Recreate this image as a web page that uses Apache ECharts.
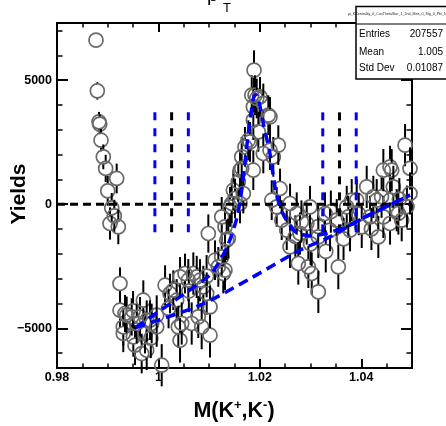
<!DOCTYPE html>
<html>
<head>
<meta charset="utf-8">
<script src="https://cdn.jsdelivr.net/npm/echarts@6/dist/echarts.min.js"></script>
<style>
html,body{margin:0;padding:0;background:#fff;}
#chart{width:446px;height:426px;}
</style>
</head>
<body>
<div id="chart"></div>
<script>
// ---- data ----
const massValues = [0.98769,0.98795,0.98828,0.98842,0.98868,0.98913,0.98960,0.99000,0.99045,0.99079,0.99130,0.99177,0.99209,
0.99242,0.99242,0.99307,0.99307,0.99341,0.99374,0.99473,0.99500,0.99505,0.99538,0.99572,0.99637,0.99670,0.99702,0.99735,0.99769,0.99769,
0.99834,0.99850,0.99867,0.99966,0.99966,1.00065,1.00131,1.00200,1.00228,1.00293,1.00360,1.00392,1.00426,1.00426,1.00459,1.00524,1.00589,1.00600,1.00656,
1.00688,1.00755,1.00786,1.00820,1.00853,1.00885,1.00950,1.00952,1.00984,1.01017,1.01017,1.01116,1.01181,1.01248,1.01248,1.01279,1.01313,
1.01313,1.01346,1.01378,1.01412,1.01445,1.01477,1.01510,1.01575,1.01609,1.01609,1.01642,1.01642,1.01674,1.01707,1.01772,1.01806,
1.01840,1.01871,1.01871,1.01871,1.01885,1.01905,1.01938,1.01970,1.02003,1.02068,1.02068,1.02167,1.02200,1.02200,1.02234,1.02265,
1.02332,1.02364,1.02398,1.02431,1.02530,1.02595,1.02595,1.02700,1.02727,1.02758,1.02792,1.02820,1.02924,1.02956,1.02989,1.03000,1.03023,1.03150,1.03153,1.03153,
1.03285,1.03300,1.03384,1.03400,1.03516,1.03547,1.03650,1.03713,1.03744,1.03778,1.03811,1.03910,1.03950,1.04009,1.04107,1.04172,1.04200,1.04237,1.04304,1.04336,1.04400,1.04435,
1.04435,1.04567,1.04567,1.04567,1.04600,1.04632,1.04699,1.04731,1.04750,1.04797,1.04863,1.04900,1.04961,1.04961];
const yieldValues = [6609,4566,3317,3224,2579,1906,1439,536,-778,-149,-472,1036,-915,
-3196,-4272,-4945,-5211,-4405,-4473,-4542,-4300,-5348,-5682,-4808,-4542,-6017,-3869,-5211,-5884,-4675,
-4675,-5400,-4808,-4473,-4945,-6488,-3264,-4200,-3599,-3466,-3869,-4945,-5481,-2930,-4808,-2793,-3063,-3500,-4808,
-2793,-2930,-4542,-3063,-4945,-3333,-2900,-3599,-1181,-5279,-4139,-2257,-2527,-2124,-512,-2793,-2660,
-915,-1451,-1382,-109,28,564,230,899,1370,28,1439,1906,431,2309,2579,2511,
4393,3921,3385,1370,5400,4393,4260,2914,4324,4058,2043,3587,3518,2176,161,1906,
-109,2378,633,-645,-1048,28,-1721,-1300,-375,-2390,-1181,-700,-778,-2527,-109,-1600,-2793,-900,-3534,-1318,
-375,-1900,-1048,-300,-645,-2527,-1400,-109,-512,-1048,161,161,-400,-915,697,-512,-1000,294,161,-1318,300,1370,
-512,1503,161,-778,1370,697,-242,-375,200,-645,2378,-100,1439,431];
const yieldErrors = [250,350,400,400,450,500,550,600,650,600,650,600,700,
650,700,750,750,750,750,750,800,800,800,800,800,800,800,800,800,800,
800,800,800,800,800,850,800,800,800,800,850,850,900,800,850,800,850,850,850,
850,850,850,850,900,850,850,850,770,900,850,800,800,800,800,800,800,
800,800,800,800,800,800,800,800,800,800,800,800,800,800,800,800,
800,800,800,800,800,800,800,800,800,800,800,800,800,800,800,800,
800,800,800,800,800,800,850,850,850,850,850,850,850,850,850,850,850,850,850,850,
850,850,850,850,850,900,850,850,850,850,850,850,850,850,850,850,850,850,850,850,850,850,
850,850,850,850,850,850,850,850,850,850,850,850,850,850];

const fitMass  = [0.9955,1.0050,1.0103,1.0135,1.0155,1.0165,1.0171,1.0178,1.0187,1.0192,1.0198,1.0207,1.0220,1.0230,1.0240,1.0253,1.0272,1.0299,1.0331,1.0377,1.0403,1.0496];
const fitYield = [-4967,-3621,-2814,-1742,-532,677,1754,2964,4250,4420,4150,3234,2024,677,-129,-665,-1137,-1270,-1180,-850,-564,363];
const bgMass  = [0.9955,1.0082,1.0181,1.0279,1.0338,1.0403,1.0496];
const bgYield = [-4967,-4070,-2994,-1854,-1318,-564,363];

const sidebandLines = [0.9993,1.0026,1.0059,1.0324,1.0357,1.0390];
const sidebandColors = ['#0000ff','#000000','#0000ff','#0000ff','#000000','#0000ff'];
const sidebandRange = [3700,-1150];

const xMajorTicks = [0.98,1.00,1.02,1.04];
const xMinorTicks = [0.985,0.99,0.995,1.005,1.01,1.015,1.025,1.03,1.035,1.045];
const xTickLabels = ['0.98','1','1.02','1.04'];
const yMajorTicks = [-5000,0,5000];
const yMinorTicks = [-6000,-4000,-3000,-2000,-1000,1000,2000,3000,4000,6000,7000];
const yTickLabels = ['\u22125000','0','5000'];

const statsLabels = ['Entries','Mean','Std Dev'];
const statsValues = ['207557','1.005','0.01087'];

// ---- chart ----
const FONT = 'Liberation Sans, Arial, Helvetica, sans-serif';
const chart = echarts.init(document.getElementById('chart'), null, {renderer:'canvas'});

function xAx(pos, ticks, len, w, withLabels){
  return {
    type:'value', min:0.98, max:1.05, position:pos,
    axisLine:{show:true,onZero:false,lineStyle:{color:'#000',width:2}},
    axisTick:{show:true,inside:true,length:len,customValues:ticks,lineStyle:{color:'#000',width:w}},
    axisLabel: withLabels ? {
      show:true, customValues:xMajorTicks, margin:3,
      fontFamily:FONT, fontWeight:'bold', fontSize:12.5, color:'#000',
      formatter:(v)=>{ const i = xMajorTicks.findIndex(t=>Math.abs(t-v)<1e-6); return i>=0?xTickLabels[i]:''; }
    } : {show:false},
    splitLine:{show:false}
  };
}
function yAx(pos, ticks, len, w, withLabels){
  return {
    type:'value', min:-6600, max:7300, position:pos,
    axisLine:{show:true,onZero:false,lineStyle:{color:'#000',width:2}},
    axisTick:{show:true,inside:true,length:len,customValues:ticks,lineStyle:{color:'#000',width:w}},
    axisLabel: withLabels ? {
      show:true, customValues:yMajorTicks, margin:5,
      fontFamily:FONT, fontWeight:'bold', fontSize:12.5, color:'#000',
      formatter:(v)=>{ const i = yMajorTicks.findIndex(t=>Math.abs(t-v)<1e-6); return i>=0?yTickLabels[i]:''; }
    } : {show:false},
    splitLine:{show:false}
  };
}

const pointData = massValues.map((m,i)=>[m, yieldValues[i], yieldErrors[i]]);

const series = [];
series.push({
  type:'custom', xAxisIndex:0, yAxisIndex:0, z:2, clip:false,
  data: pointData,
  renderItem:(params, api)=>{
    const x = api.value(0), y = api.value(1), e = api.value(2);
    const c = api.coord([x,y]);
    const t = api.coord([x,y+e]);
    const b = api.coord([x,y-e]);
    const r = 7;
    const kids = [];
    if (t[1] < c[1]-r) kids.push({type:'line',shape:{x1:c[0],y1:t[1],x2:c[0],y2:c[1]-r},style:{stroke:'#000',lineWidth:2}});
    if (b[1] > c[1]+r) kids.push({type:'line',shape:{x1:c[0],y1:c[1]+r,x2:c[0],y2:b[1]},style:{stroke:'#000',lineWidth:2}});
    kids.push({type:'circle',shape:{cx:c[0],cy:c[1],r:r},style:{fill:'none',stroke:'#6a6a6a',lineWidth:1.7}});
    return {type:'group',children:kids};
  }
});
// zero line
series.push({type:'line',xAxisIndex:0,yAxisIndex:0,z:4,symbol:'none',silent:true,
  data:[[0.98,0],[1.05,0]],lineStyle:{color:'#000',width:3,type:[8,5]}});
// sideband lines
sidebandLines.forEach((m,i)=>{
  series.push({type:'line',xAxisIndex:0,yAxisIndex:0,z:4,symbol:'none',silent:true,
    data:[[m,sidebandRange[0]],[m,sidebandRange[1]]],lineStyle:{color:sidebandColors[i],width:3,type:[8,8]}});
});
// background
series.push({type:'line',xAxisIndex:0,yAxisIndex:0,z:5,symbol:'none',silent:true,smooth:0.3,
  data:bgMass.map((m,i)=>[m,bgYield[i]]),lineStyle:{color:'#0000ff',width:3.5,type:[10,6]}});
// fit
series.push({type:'line',xAxisIndex:0,yAxisIndex:0,z:5,symbol:'none',silent:true,smooth:0.25,
  data:fitMass.map((m,i)=>[m,fitYield[i]]),lineStyle:{color:'#0000ff',width:3.5,type:[10,6]}});

const statsGraphics = [];
statsGraphics.push({type:'rect',shape:{x:356,y:6.5,width:100,height:72.5},style:{fill:'#fff',stroke:'#000',lineWidth:1.5},z:10});
statsGraphics.push({type:'line',shape:{x1:356,y1:24,x2:446,y2:24},style:{stroke:'#000',lineWidth:1},z:11});
statsGraphics.push({type:'text',x:348,y:14,style:{text:'pi_KCentrality_0_CosThetaStar_1_2nd_Bins_0_Sig_0_Phi_Nor',fontSize:3.6,fontFamily:FONT,fill:'#222',verticalAlign:'middle'},z:11});
const rowY = [34.5,52,68.5];
statsLabels.forEach((lab,i)=>{
  statsGraphics.push({type:'text',x:359,y:rowY[i],style:{text:lab,fontSize:10,fontFamily:FONT,fill:'#000',verticalAlign:'middle',align:'left'},z:11});
  statsGraphics.push({type:'text',x:443,y:rowY[i],style:{text:statsValues[i],fontSize:10,fontFamily:FONT,fill:'#000',verticalAlign:'middle',align:'right'},z:11});
});

chart.setOption({
  animation:false,
  backgroundColor:'#fff',
  grid:{left:57,right:34,top:23,bottom:58,containLabel:false},
  xAxis:[
    xAx('bottom', xMajorTicks, 9, 2, true),
    xAx('bottom', xMinorTicks, 4.5, 1.5, false),
    xAx('top', xMajorTicks, 9, 2, false),
    xAx('top', xMinorTicks, 4.5, 1.5, false)
  ],
  yAxis:[
    yAx('left', yMajorTicks, 11, 2, true),
    yAx('left', yMinorTicks, 5.5, 1.5, false),
    yAx('right', yMajorTicks, 11, 2, false),
    yAx('right', yMinorTicks, 5.5, 1.5, false)
  ],
  series: series,
  graphic:[
    {type:'text',x:19,y:194,rotation:Math.PI/2,style:{text:'Yields',fontSize:21,fontWeight:'bold',fontFamily:FONT,fill:'#000',align:'center',verticalAlign:'middle'}},
    {type:'text',x:234,y:411,style:{
      text:'{b|M(K}{s|+}{b|,K}{s|-}{b|)}',
      align:'center',verticalAlign:'middle',
      rich:{
        b:{fontSize:21.5,fontWeight:'bold',fontFamily:FONT,fill:'#000'},
        s:{fontSize:13,fontWeight:'bold',fontFamily:FONT,fill:'#000',verticalAlign:'top',padding:[0,0,11,0]}
      }}},
    {type:'text',x:207,y:-15,style:{text:'p',fontSize:20,fontFamily:FONT,fill:'#000'}},
    {type:'text',x:223,y:2,style:{text:'T',fontSize:13,fontFamily:FONT,fill:'#000'}}
  ].concat(statsGraphics)
});
</script>
</body>
</html>
